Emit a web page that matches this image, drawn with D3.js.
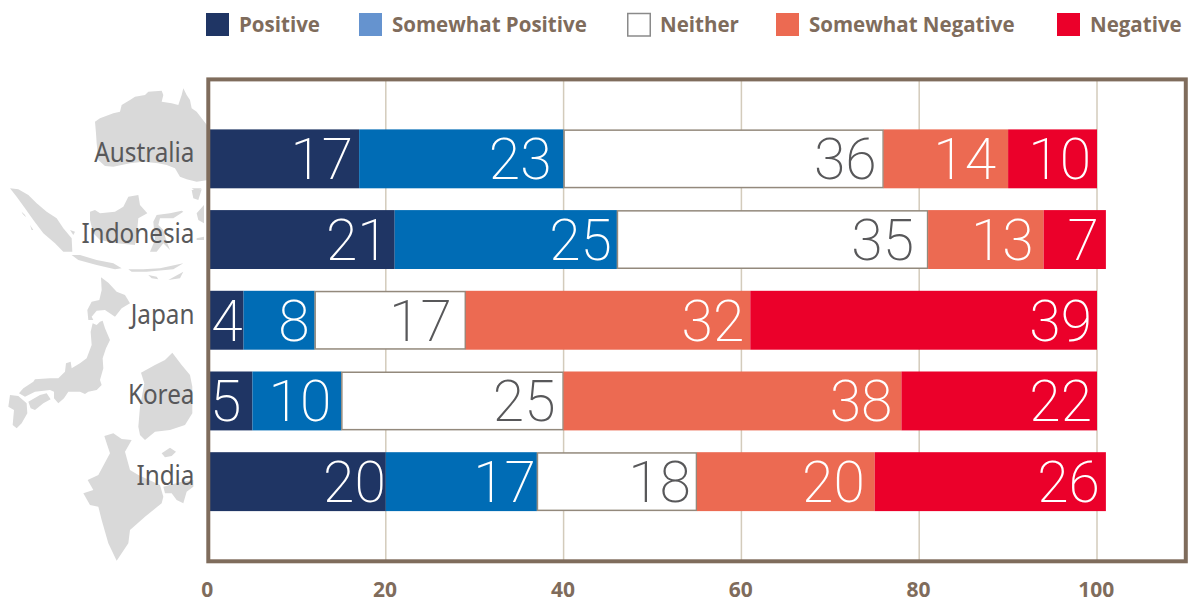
<!DOCTYPE html>
<html><head><meta charset="utf-8">
<script src="https://cdn.jsdelivr.net/npm/d3@7/dist/d3.min.js"></script>
<style>html,body{margin:0;padding:0;background:#fff}svg{display:block}</style></head>
<body><svg id="c" width="1189" height="600"></svg>
<script>
const categories = ["Australia","Indonesia","Japan","Korea","India"];
const seriesNames = ["Positive","Somewhat Positive","Neither","Somewhat Negative","Negative"];
const positive = [17,21,4,5,20];
const somewhatPositive = [23,25,8,10,17];
const neither = [36,35,17,25,18];
const somewhatNegative = [14,13,32,38,20];
const negative = [10,7,39,22,26];
const xTicks = [0,20,40,60,80,100];
const barColors = ["#1f3564","#006cb5","#ffffff","#ec6a52","#eb002a"];
const legendColors = ["#1f3564","#6593cf","#ffffff","#ec6a52","#eb002a"];
const legendX = [206,359,628,776,1057];
const labelColors = ["#fff","#fff","#58585a","#fff","#fff"];
// how far each value label sits in from the end of its segment, by row then series
const labelInsets = [[6,12,7,12,6],[6,5,14,10,7],[1,5,14,6,5],[11,10,8,9,5],[0,1,6,10,6]];

// decorative silhouettes, in 3x crop units: [originX, originY, paths]
const mapAustralia = [80,80,[
"M45,125L60,115L100,100L120,95L125,75L150,60L165,50L195,45L205,35L245,32L250,45L245,65L275,70L295,75L305,45L310,25L320,45L330,60L335,85L350,95L365,115L385,140L385,300L350,305L320,298L300,290L285,265L260,255L235,250L190,245L150,250L100,260L75,258L55,240L50,190L48,160Z",
"M335,325L365,325L350,335Z"]];
const mapIndonesia = [0,180,[
"M30,25L55,28L85,45L110,70L140,95L170,115L190,145L215,175L217,215L190,215L165,190L130,160L100,120L75,85L50,50Z",
"M270,95L285,90L300,100L345,95L370,80L385,50L415,45L420,75L442,100L415,115L410,170L405,195L350,190L300,180L280,160L270,120Z",
"M460,125L470,105L510,100L545,92L550,95L520,115L480,115L475,135L490,150L500,185L510,210L490,190L470,215L450,215L465,180Z",
"M215,225L240,225L290,240L340,250L365,265L345,268L290,255L235,240Z",
"M385,268L430,268L480,265L550,250L520,268L440,275L395,275Z",
"M445,285L470,290L475,298L455,295Z","M505,300L550,275L540,295Z",
"M575,30L605,28L595,60L580,55Z","M590,100L612,75L612,130L595,120Z","M590,175L612,170L612,180L590,180Z",
"M65,95L75,105L78,112L68,102Z","M90,135L100,150L95,150Z","M210,150L225,155L220,165Z"]];
const mapJapan = [0,270,[
"M303,22L325,38L350,65L375,75L390,100L365,115L345,140L315,120L290,122L275,140L280,150L265,150L262,120L275,95L298,90L305,60Z",
"M278,160L290,165L300,155L308,152L315,175L330,210L318,235L308,265L310,295L300,330L305,345L290,360L265,365L255,372L240,365L205,365L192,385L175,400L162,385L162,365L150,360L105,365L75,380L57,370L70,355L100,335L105,328L150,325L175,325L195,305L198,280L212,275L215,295L240,280L260,265L275,225L272,185Z",
"M85,395L120,375L140,370L152,388L130,400L105,420L92,415Z",
"M30,375L55,378L80,400L82,430L65,460L50,475L38,465L42,420L25,410Z"]];
const mapKoreaIndia = [75,340,[
"M292,38L320,75L345,105L352,140L352,220L330,255L285,270L240,275L210,300L195,285L190,260L195,200L208,130L198,98L240,75L270,60Z",
"M260,340L285,323L303,335L290,348L270,352Z",
"M88,288L115,280L140,297L170,300L150,335L165,390L190,405L255,435L265,470L260,490L210,530L165,570L160,610L125,662L100,610L80,540L70,500L45,495L25,460L55,450L38,420L70,405L105,340L95,310Z",
"M265,440L320,425L355,420L355,440L335,455L325,490L305,480L290,460L270,460Z"]];

const rows = categories.map((c,i)=>({c,i,v:[positive[i],somewhatPositive[i],neither[i],somewhatNegative[i],negative[i]]}));
const svg = d3.select("#c");
const x = d3.scaleLinear().domain([0,100]).range([208,1097]);
const y = d3.scaleBand().domain(categories).range([118.5,522]).paddingInner(0.27).paddingOuter(0.135);
const brown = "#7f6c5c";

[mapAustralia,mapIndonesia,mapJapan,mapKoreaIndia].forEach(([ox,oy,paths])=>{
  svg.append("g").attr("transform",`translate(${ox},${oy}) scale(0.3333)`).selectAll("path").data(paths).join("path").attr("d",d=>d).attr("fill","#d9d9d9");
});

svg.append("rect").attr("x",209).attr("y",80).attr("width",976).attr("height",480).attr("fill","#fff");

svg.append("g").selectAll("line").data(xTicks.slice(1)).join("line")
  .attr("x1",d=>x(d)).attr("x2",d=>x(d)).attr("y1",80).attr("y2",560)
  .attr("stroke","#d3cbbb").attr("stroke-width",1.5);

const row = svg.append("g").selectAll("g").data(rows).join("g").attr("transform",d=>`translate(0,${y(d.c)})`);
row.each(function(d){
  let cum=0;
  const g=d3.select(this);
  d.v.forEach((v,k)=>{
    const x0=x(cum), x1=x(cum+v); cum+=v;
    const left=Math.max(x0,209.5);
    const isN=k===2;
    g.append("rect").attr("x",isN?left+.5:left).attr("y",isN?.75:0).attr("width",x1-left-(isN?1:0)).attr("height",y.bandwidth()-(isN?1.5:0))
      .attr("fill",barColors[k]).attr("stroke",isN?"#93897c":"none").attr("stroke-width",1.5);
    g.append("text").attr("x",x1-labelInsets[d.i][k]).attr("y",y.bandwidth()/2+20.5).attr("text-anchor","end")
      .attr("font-family","Roboto").attr("font-weight",200).attr("font-size",57).attr("fill",labelColors[k]).text(v);
  });
  g.append("text").attr("transform",`translate(194.5,${y.bandwidth()/2+3.5}) scale(0.9,1)`).attr("text-anchor","end")
   .attr("font-family","'Noto Sans'").attr("font-size",27).attr("fill","#58585a").text(d.c);
});

svg.append("rect").attr("x",208.3).attr("y",79.4).attr("width",977.5).attr("height",481.9).attr("fill","none").attr("stroke",brown).attr("stroke-width",4);

svg.append("g").selectAll("text").data(xTicks).join("text").attr("x",d=>x(d)-0.7).attr("y",597).attr("text-anchor","middle")
  .attr("font-family","'Open Sans'").attr("font-weight",700).attr("font-size",21).attr("fill",brown).text(d=>d);

const lg=svg.append("g").selectAll("g").data(seriesNames).join("g");
lg.append("rect").attr("x",(d,i)=>legendX[i]+(i===2?-.25:0)).attr("y",(d,i)=>13+(i===2?.5:0)).attr("width",(d,i)=>i===2?22.5:23).attr("height",(d,i)=>i===2?22.5:23)
  .attr("fill",(d,i)=>legendColors[i]).attr("stroke",(d,i)=>i===2?"#8a8a8a":"none").attr("stroke-width",1.5);
lg.append("text").attr("x",(d,i)=>legendX[i]+33-(i===2?1:0)).attr("y",32).attr("font-family","'Open Sans'").attr("font-weight",700).attr("font-size",20.5).attr("fill",brown).text(d=>d);
</script></body></html>
